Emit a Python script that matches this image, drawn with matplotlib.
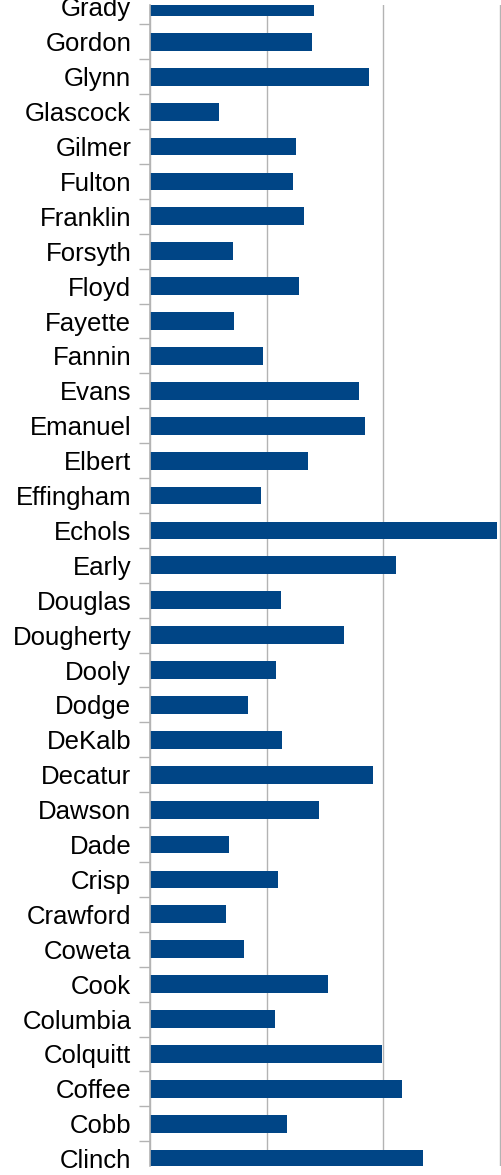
import matplotlib
matplotlib.use("Agg")
import matplotlib.pyplot as plt
import numpy as np

# Comtés (de haut en bas) et valeurs
counties = [
    "Grady", "Gordon", "Glynn", "Glascock", "Gilmer", "Fulton", "Franklin",
    "Forsyth", "Floyd", "Fayette", "Fannin", "Evans", "Emanuel", "Elbert",
    "Effingham", "Echols", "Early", "Douglas", "Dougherty", "Dooly", "Dodge",
    "DeKalb", "Decatur", "Dawson", "Dade", "Crisp", "Crawford", "Coweta",
    "Cook", "Columbia", "Colquitt", "Coffee", "Cobb", "Clinch",
]
values = [
    14.05, 13.9, 18.77, 5.91, 12.51, 12.25, 13.2,
    7.11, 12.77, 7.2, 9.68, 17.91, 18.42, 13.54,
    9.51, 29.73, 21.08, 11.23, 16.62, 10.8, 8.4,
    11.31, 19.11, 14.48, 6.77, 10.97, 6.51, 8.05,
    15.25, 10.71, 19.88, 21.59, 11.74, 23.39,
]
grid_ticks = [0, 10, 20, 30]

fig = plt.figure(figsize=(5.02, 11.75), dpi=100)
ax = fig.add_axes([150 / 502, 9 / 1175, 351 / 502, 1161 / 1175])

n = len(counties)
pos = np.arange(n)[::-1]  # premier comté en haut
ax.barh(pos, values, height=0.51, color="#004586", zorder=2)

# Grille verticale
ax.set_xticks(grid_ticks)
ax.xaxis.grid(True, color="#b3b3b3", linewidth=1)
ax.set_axisbelow(True)
ax.tick_params(axis="x", length=0, labelbottom=False)

# Libellés des comtés
ax.set_yticks(pos)
ax.set_yticklabels(counties, fontsize=18.5, family="Liberation Sans", color="black")
ax.tick_params(axis="y", which="major", length=0, pad=13.5)
ax.set_yticks(np.arange(-0.5, n), minor=True)
ax.tick_params(axis="y", which="minor", length=8, width=1, color="#b3b3b3")

# limites après les ticks (set_yticks élargit la vue)
ax.set_ylim(-0.21, n - 1 + 0.055)
ax.set_xlim(0, 30.08)

for side in ["top", "right", "bottom"]:
    ax.spines[side].set_visible(False)
ax.spines["left"].set_color("#b3b3b3")
ax.spines["left"].set_linewidth(1.2)

fig.savefig("out.png", dpi=100)
